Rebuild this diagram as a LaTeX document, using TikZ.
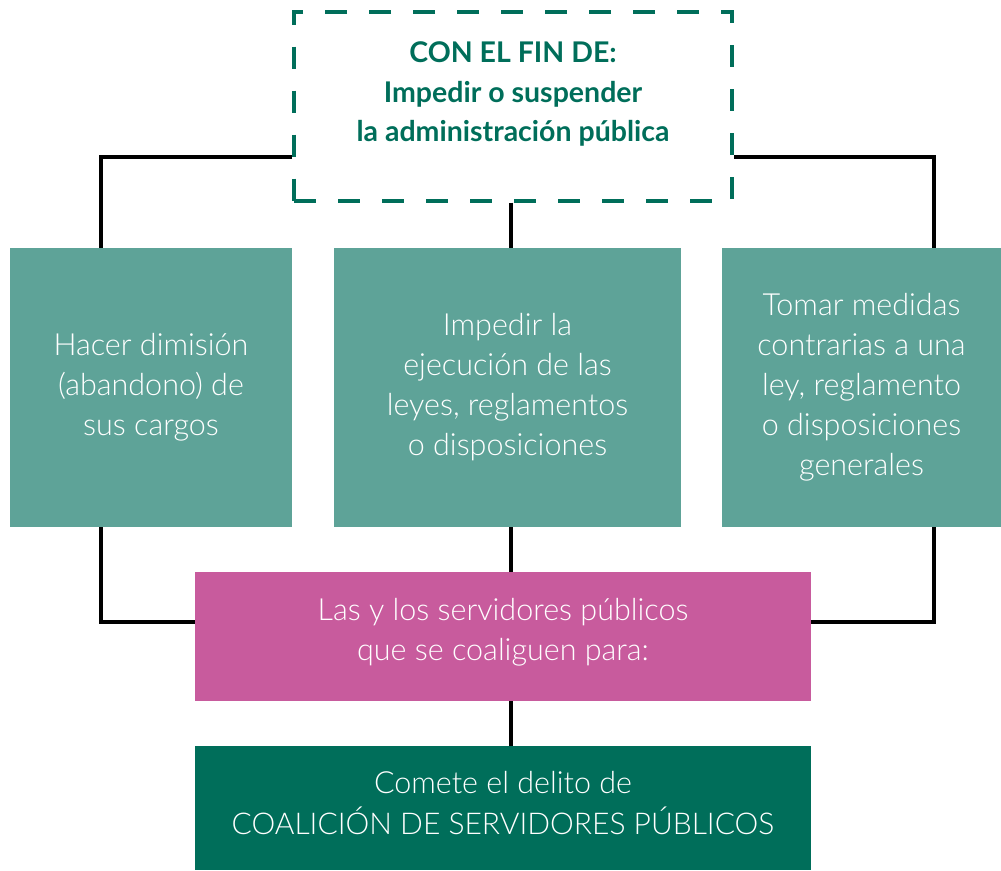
\documentclass[tikz,border=0pt]{standalone}
\usepackage{fontspec}
\setmainfont{Lato}
\newfontfamily\lightfont{Lato Light}
\usetikzlibrary{backgrounds}
\definecolor{teal1}{HTML}{5EA398}
\definecolor{pink1}{HTML}{C85B9D}
\definecolor{dgreen}{HTML}{006E5A}
\begin{document}
\begin{tikzpicture}[x=1pt,y=-1pt,
  box/.style={rectangle,inner sep=0pt,align=center,text=white,font=\lightfont\fontsize{30.5}{40}\selectfont},
  txt/.style={inner sep=0pt,align=center,text=white,font=\lightfont\fontsize{30.5}{40.5}\selectfont},
  conn/.style={draw=black,line width=4pt}]
\useasboundingbox (0,0) rectangle (1001,870);
\node[rectangle,draw=dgreen,line width=4pt,dash pattern=on 22pt off 22pt,minimum width=438pt,minimum height=189pt,inner sep=0pt] (top) at (513,106) {};
\node[align=center,text=dgreen,font=\bfseries\fontsize{28.5}{39.5}\selectfont] (toptext) at (513,94) {CON EL FIN DE:\\Impedir o suspender\\la administración pública};
\node[box,fill=teal1,minimum width=282pt,minimum height=279pt] (left) at (151,387.5) {Hacer dimisión\\(abandono) de\\sus cargos};
\node[box,fill=teal1,minimum width=347pt,minimum height=279pt] (mid) at (507.5,387.5) {Impedir la\\ejecución de las\\leyes, reglamentos\\o disposiciones};
\node[box,fill=teal1,minimum width=279pt,minimum height=279pt] (right) at (861.5,387.5) {Tomar medidas\\contrarias a una\\ley, reglamento\\o disposiciones\\generales};
\node[rectangle,fill=pink1,minimum width=616pt,minimum height=129pt,inner sep=0pt] (pink) at (503,636.5) {};
\node[txt] (pinktext) at (503,632) {Las y los servidores públicos\\que se coaliguen para:};
\node[rectangle,fill=dgreen,minimum width=616pt,minimum height=124pt,inner sep=0pt] (dark) at (503,808) {};
\node[txt] (darktext) at (503,803) {Comete el delito de\\{\fontsize{30}{40}\selectfont COALICIÓN DE SERVIDORES PÚBLICOS}};
\coordinate (lx) at (101,0);
\coordinate (rx) at (934,0);
\coordinate (cx) at (511,0);
\coordinate (ty) at (0,157);
\coordinate (by) at (0,622);
\begin{scope}[on background layer]
\draw[conn] (top.west |- ty) -| (left.north -| lx);
\draw[conn] (top.east |- ty) -| (right.north -| rx);
\draw[conn] (top.south -| cx) -- (mid.north -| cx);
\draw[conn] (left.south -| lx) |- (pink.west |- by);
\draw[conn] (right.south -| rx) |- (pink.east |- by);
\draw[conn] (mid.south -| cx) -- (pink.north -| cx);
\draw[conn] (pink.south -| cx) -- (dark.north -| cx);
\end{scope}
\end{tikzpicture}
\end{document}
